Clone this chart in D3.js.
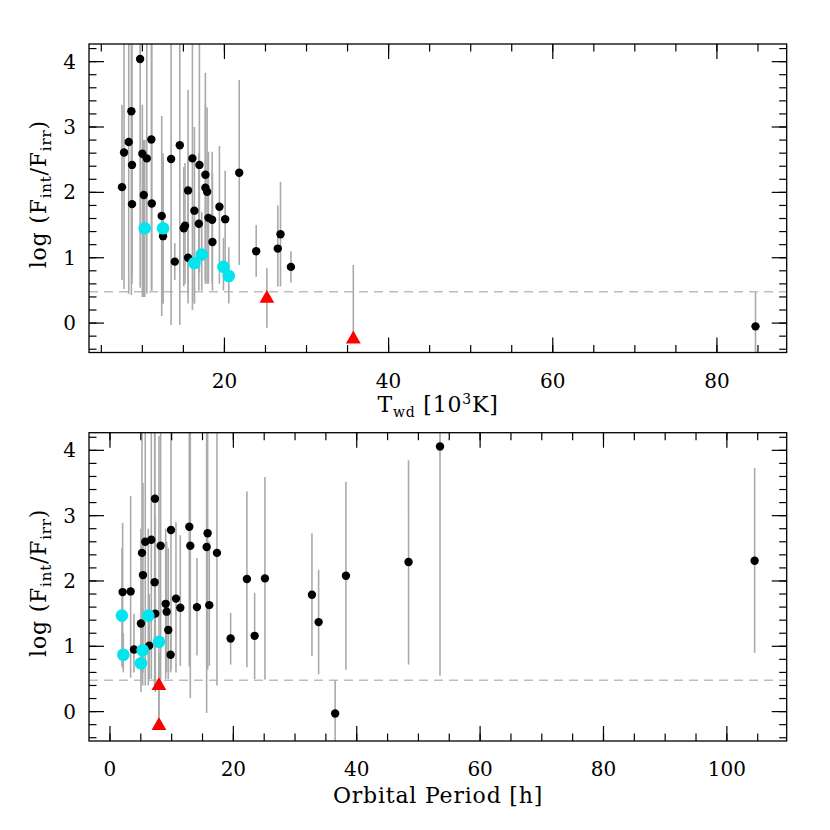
<!DOCTYPE html>
<html><head><meta charset="utf-8">
<script src="https://cdn.jsdelivr.net/npm/d3@7"></script>
<style>body{margin:0;background:#fff}svg{display:block}</style>
</head><body>
<script>
// ---------- DATA ----------
// Top panel: white dwarf temperature (10^3 K) vs log(Fint/Firr)
const twdX  = [7.52,7.77,8.34,8.66,8.74,8.74,9.73,10.0,10.17,10.54,11.1,11.15,12.36,12.52,13.5,13.95,14.56,15.05,15.2,15.57,15.57,16.1,16.34,16.95,17.68,17.68,17.89,16.88,18.05,18.5,18.54,19.39,20.09,21.8,23.87,26.5,26.83,28.1,84.7,
               10.29,12.52,16.34,17.24,19.88,20.53,
               25.17,35.7];
const twdY  = [2.08,2.61,2.77,3.24,2.42,1.82,4.04,2.59,1.96,2.52,2.81,1.83,1.64,1.33,2.51,0.94,2.72,1.45,1.49,2.03,1.0,2.52,1.72,2.42,2.27,2.07,2.01,1.52,1.61,1.58,1.24,1.78,1.59,2.30,1.10,1.14,1.36,0.86,-0.05,
               1.45,1.45,0.92,1.05,0.86,0.72,
               0.39,-0.23];
const twdLo = [0.66,0.52,0.45,0.43,0.6,0.7,0.54,0.4,0.4,0.45,0.5,0.5,0.11,0.3,-0.03,0.66,-0.03,0.56,0.6,0.46,0.3,0.2,0.3,0.77,0.66,0.6,0.6,0.5,0.6,0.6,0.5,0.6,0.86,0.89,0.71,0.56,0.56,0.62,-0.6,
               0.4,0.3,0.3,0.5,0.5,0.3,
               -0.07,-0.23];
const twdHi = [3.34,4.5,4.5,4.5,4.5,3.2,4.5,3.34,2.8,4.5,4.5,4.5,3.17,2.5,4.5,1.22,4.5,2.39,2.45,3.57,2.5,4.5,3.0,4.5,3.83,3.35,3.3,2.6,2.62,2.62,2.3,2.71,2.33,3.72,1.50,1.80,2.16,1.10,0.47,
               2.8,2.6,1.6,1.7,1.3,1.16,
               0.84,0.89];
const twdKind = ["b","b","b","b","b","b","b","b","b","b","b","b","b","b","b","b","b","b","b","b","b","b","b","b","b","b","b","b","b","b","b","b","b","b","b","b","b","b","b",
                 "c","c","c","c","c","c",
                 "t","t"];

// Bottom panel: orbital period (h) vs log(Fint/Firr)
const porbX  = [7.29,9.89,5.72,6.7,5.19,8.21,12.86,13.02,5.35,7.24,2.05,3.35,9.03,10.7,9.19,11.4,7.35,5.02,9.45,3.89,6.37,9.83,15.83,15.67,17.34,14.1,16.1,19.56,22.2,23.45,25.12,32.74,33.82,38.25,48.4,53.5,36.5,104.5,
                1.94,6.21,7.94,5.3,2.16,5.02,
                7.94,7.94];
const porbY  = [3.26,2.78,2.60,2.63,2.43,2.54,2.83,2.54,2.09,1.98,1.83,1.84,1.65,1.73,1.53,1.59,1.50,1.35,1.25,0.95,1.01,0.87,2.73,2.52,2.43,1.60,1.63,1.12,2.03,1.16,2.04,1.79,1.37,2.08,2.29,4.06,-0.03,2.31,
                1.47,1.47,1.07,0.94,0.87,0.74,
                0.41,-0.20];
const porbLo = [0.39,0.64,0.4,0.5,0.5,0.45,0.69,0.21,0.6,0.4,0.67,0.52,0.5,0.6,0.6,0.7,0.3,0.6,0.5,0.6,0.5,0.6,0.64,-0.02,0.40,0.86,0.7,0.72,0.68,0.50,0.49,0.85,0.57,0.64,0.72,0.55,-0.6,0.90,
                0.7,0.4,0.4,0.4,0.6,0.3,
                -0.07,-0.20];
const porbHi = [4.5,4.5,4.5,4.5,4.5,4.5,4.5,4.5,3.5,4.5,2.89,3.30,2.8,2.9,2.6,2.7,3.0,2.8,2.5,1.5,1.8,1.3,4.5,4.5,4.5,2.35,2.6,1.51,3.37,1.82,3.59,2.73,2.17,3.52,3.85,4.5,0.48,3.73,
                2.5,2.8,4.22,1.6,1.2,1.2,
                0.84,0.89];
const porbKind = ["b","b","b","b","b","b","b","b","b","b","b","b","b","b","b","b","b","b","b","b","b","b","b","b","b","b","b","b","b","b","b","b","b","b","b","b","b","b",
                  "c","c","c","c","c","c",
                  "t","t"];

const yTicks = [0,1,2,3,4];
const twdTicks = [20,40,60,80];
const porbTicks = [0,20,40,60,80,100];
const limitLine = 0.48;

// ---------- DRAW ----------
const W = 830, H = 830;
const svg = d3.select("body").append("svg").attr("width", W).attr("height", H);
const FONT = "DejaVu Serif, Liberation Serif, serif";
const FS = 20;   // tick labels
const TS = 22;   // axis titles
const LS = 0.8;  // title letter spacing

function panel(cfg) {
  const {top, bottom, left, right, xDomain, xMajor, xMinorStep, xs, ys, los, his, kinds, id} = cfg;
  const x = d3.scaleLinear().domain(xDomain).range([left, right]);
  const y = d3.scaleLinear().domain([-0.45, 4.27]).range([bottom, top]);
  const g = svg.append("g");

  g.append("clipPath").attr("id", id).append("rect")
    .attr("x", left).attr("y", top).attr("width", right - left).attr("height", bottom - top);
  const data = xs.map((v, i) => ({x: v, y: ys[i], lo: los[i], hi: his[i], k: kinds[i]}));
  const dg = g.append("g").attr("clip-path", `url(#${id})`);

  dg.append("line").attr("x1", left).attr("x2", right)
    .attr("y1", y(limitLine)).attr("y2", y(limitLine))
    .attr("stroke", "#bdbdbd").attr("stroke-width", 1.6).attr("stroke-dasharray", "9,6");

  dg.selectAll("line.err").data(data).join("line").attr("class", "err")
    .attr("x1", d => x(d.x)).attr("x2", d => x(d.x))
    .attr("y1", d => y(d.lo)).attr("y2", d => y(d.hi))
    .attr("stroke", "#aaaaaa").attr("stroke-width", 1.6);

  dg.selectAll("circle.b").data(data.filter(d => d.k === "b")).join("circle")
    .attr("cx", d => x(d.x)).attr("cy", d => y(d.y)).attr("r", 4.2).attr("fill", "#000");
  dg.selectAll("circle.c").data(data.filter(d => d.k === "c")).join("circle")
    .attr("cx", d => x(d.x)).attr("cy", d => y(d.y)).attr("r", 6.3).attr("fill", "#00e5ee");
  const tri = d3.symbol().type(d3.symbolTriangle).size(95);
  dg.selectAll("path.t").data(data.filter(d => d.k === "t")).join("path")
    .attr("transform", d => `translate(${x(d.x)},${y(d.y) + 1})`)
    .attr("d", tri).attr("fill", "#ff0000");

  const xMinor = d3.range(Math.ceil(xDomain[0] / xMinorStep) * xMinorStep, xDomain[1], xMinorStep);
  const yMinor = d3.range(-0.4, 4.27, 0.2).map(v => +v.toFixed(1));
  const tk = g.append("g").attr("stroke", "#000").attr("stroke-width", 1.2);
  const drawX = (vals, len) => {
    vals.forEach(v => {
      tk.append("line").attr("x1", x(v)).attr("x2", x(v)).attr("y1", bottom).attr("y2", bottom - len);
      tk.append("line").attr("x1", x(v)).attr("x2", x(v)).attr("y1", top).attr("y2", top + len);
    });
  };
  const drawY = (vals, len) => {
    vals.forEach(v => {
      tk.append("line").attr("y1", y(v)).attr("y2", y(v)).attr("x1", left).attr("x2", left + len);
      tk.append("line").attr("y1", y(v)).attr("y2", y(v)).attr("x1", right).attr("x2", right - len);
    });
  };
  drawX(xMinor, 7.5);
  drawX(xMajor, 15);
  drawY(yMinor, 7.5);
  drawY(yTicks, 15);

  g.append("rect").attr("x", left).attr("y", top).attr("width", right - left).attr("height", bottom - top)
    .attr("fill", "none").attr("stroke", "#000").attr("stroke-width", 1.3);

  g.selectAll("text.xl").data(xMajor).join("text")
    .attr("x", d => x(d)).attr("y", bottom + 35).attr("text-anchor", "middle")
    .attr("font-family", FONT).attr("font-size", FS).text(d => d);
  g.selectAll("text.yl").data(yTicks).join("text")
    .attr("x", left - 13).attr("y", d => y(d) + 7).attr("text-anchor", "end")
    .attr("font-family", FONT).attr("font-size", FS).text(d => d);

  const yl = g.append("text").attr("transform", `translate(46,${(top + bottom) / 2 - 4}) rotate(-90)`)
    .attr("text-anchor", "middle").attr("font-family", FONT).attr("font-size", TS)
    .attr("letter-spacing", LS);
  yl.append("tspan").text("log (F");
  yl.append("tspan").attr("font-size", 15).attr("dy", 5).text("int");
  yl.append("tspan").attr("dy", -5).text("/F");
  yl.append("tspan").attr("font-size", 15).attr("dy", 5).text("irr");
  yl.append("tspan").attr("dy", -5).text(")");
  return {x, y, g};
}

const p1 = panel({id: "c1", top: 44, bottom: 352.5, left: 89, right: 786.7, xDomain: [3.5, 88.5],
  xMajor: twdTicks, xMinorStep: 5, xs: twdX, ys: twdY, los: twdLo, his: twdHi, kinds: twdKind});
const xl1 = p1.g.append("text").attr("x", 438).attr("y", 412).attr("text-anchor", "middle")
  .attr("font-family", FONT).attr("font-size", TS).attr("letter-spacing", LS);
xl1.append("tspan").text("T");
xl1.append("tspan").attr("font-size", 14).attr("dy", 5).text("wd");
xl1.append("tspan").attr("dy", -5).text("\u00a0[10");
xl1.append("tspan").attr("font-size", 14).attr("dy", -8).text("3");
xl1.append("tspan").attr("dy", 8).text("K]");

const p2 = panel({id: "c2", top: 432.7, bottom: 741, left: 89, right: 786.7, xDomain: [-3.4, 109.7],
  xMajor: porbTicks, xMinorStep: 5, xs: porbX, ys: porbY, los: porbLo, his: porbHi, kinds: porbKind});
p2.g.append("text").attr("x", 438).attr("y", 803).attr("text-anchor", "middle")
  .attr("font-family", FONT).attr("font-size", TS).attr("letter-spacing", LS).text("Orbital Period [h]");
</script>
</body></html>
